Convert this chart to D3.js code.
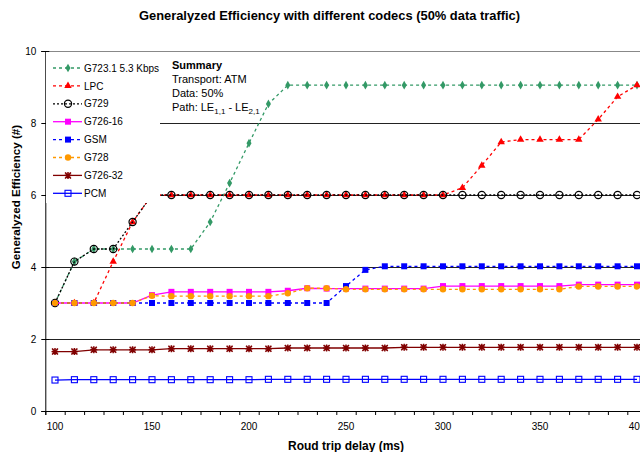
<!DOCTYPE html>
<html><head><meta charset="utf-8">
<script src="https://cdn.jsdelivr.net/npm/d3@7"></script>
<style>
body{margin:0;background:#fff;}
text{font-family:"Liberation Sans",Arial,sans-serif;}
</style></head>
<body>
<svg id="chart" width="640" height="452"></svg>
<script>
const categories = [100,110,120,130,140,150,160,170,180,190,200,210,220,230,240,250,260,270,280,290,300,310,320,330,340,350,360,370,380,390,400];
const xTickLabels = [100,150,200,250,300,350,400];
const yTicks = [0,2,4,6,8,10];
const seriesNames = ["G723.1 5.3 Kbps","LPC","G729","G726-16","GSM","G728","G726-32","PCM"];
const g7231 = [3.0,4.15,4.5,4.5,4.5,4.5,4.5,4.5,5.25,6.33,7.44,8.53,9.05,9.05,9.05,9.05,9.05,9.05,9.05,9.05,9.05,9.05,9.05,9.05,9.05,9.05,9.05,9.05,9.05,9.05,9.05];
const lpc   = [3.0,3.0,3.0,4.15,5.25,6.0,6.0,6.0,6.0,6.0,6.0,6.0,6.0,6.0,6.0,6.0,6.0,6.0,6.0,6.0,6.0,6.2,6.82,7.47,7.54,7.54,7.54,7.54,8.1,8.73,9.05];
const g729  = [3.0,4.15,4.5,4.5,5.25,6.0,6.0,6.0,6.0,6.0,6.0,6.0,6.0,6.0,6.0,6.0,6.0,6.0,6.0,6.0,6.0,6.0,6.0,6.0,6.0,6.0,6.0,6.0,6.0,6.0,6.0];
const g72616 = [3.0,3.0,3.0,3.0,3.0,3.22,3.31,3.31,3.31,3.31,3.31,3.31,3.34,3.41,3.40,3.40,3.40,3.40,3.40,3.40,3.47,3.47,3.47,3.47,3.47,3.47,3.47,3.51,3.51,3.51,3.51];
const gsm   = [3.0,3.0,3.0,3.0,3.0,3.0,3.0,3.0,3.0,3.0,3.0,3.0,3.0,3.0,3.0,3.47,3.92,4.02,4.02,4.02,4.02,4.02,4.02,4.02,4.02,4.02,4.02,4.02,4.02,4.02,4.02];
const g728  = [3.0,3.0,3.0,3.0,3.0,3.20,3.19,3.19,3.19,3.19,3.19,3.19,3.27,3.41,3.41,3.38,3.38,3.38,3.38,3.38,3.38,3.38,3.38,3.38,3.38,3.38,3.38,3.46,3.46,3.46,3.46];
const g72632 = [1.65,1.65,1.70,1.70,1.70,1.70,1.73,1.73,1.73,1.73,1.73,1.73,1.75,1.75,1.75,1.75,1.75,1.75,1.77,1.77,1.77,1.77,1.77,1.77,1.77,1.77,1.77,1.77,1.77,1.77,1.77];
const pcm   = [0.86,0.87,0.87,0.87,0.87,0.87,0.87,0.87,0.87,0.87,0.87,0.88,0.88,0.88,0.88,0.88,0.88,0.88,0.88,0.88,0.88,0.88,0.88,0.88,0.88,0.88,0.88,0.88,0.88,0.88,0.88];

const styles = [
  {color:"#339966", dash:"3,3", marker:"diamond"},
  {color:"#ff0000", dash:"3,3", marker:"triangle"},
  {color:"#000000", dash:"2,2", marker:"opencircle"},
  {color:"#ff00ff", dash:null, marker:"square"},
  {color:"#0000ff", dash:"3,3", marker:"square"},
  {color:"#ff9900", dash:"3,3", marker:"circle"},
  {color:"#800000", dash:null, marker:"star"},
  {color:"#0000ff", dash:null, marker:"opensquare"}
];
const allValues = [g7231,lpc,g729,g72616,gsm,g728,g72632,pcm];
const series = seriesNames.map((n,i)=>({name:n, values:allValues[i], ...styles[i]}));

const svg = d3.select("#chart");
const mLeft = 45.3, mRight = 646.7, mTop = 51, mBottom = 411;
const x = d3.scaleBand().domain(categories).range([mLeft,mRight]).padding(0);
const xc = v => x(v) + x.bandwidth()/2;
const y = d3.scaleLinear().domain([0,10]).range([mBottom,mTop]);

// gridlines
const grid = svg.append("g").attr("transform",`translate(${mLeft},0)`)
  .call(d3.axisRight(y).tickValues([2,4,6,8,10]).tickSize(mRight-mLeft).tickFormat(""));
grid.select(".domain").remove();
grid.selectAll(".tick line").attr("stroke",d=>d===10?"#888":"#222").attr("stroke-width",1);

// y axis
const ya = svg.append("g").attr("transform",`translate(${mLeft},0)`)
  .call(d3.axisLeft(y).tickValues(yTicks).tickSize(4).tickPadding(5).tickFormat(d3.format("d")));
ya.select(".domain").attr("stroke","#000");
ya.selectAll(".tick line").attr("x2",-4).attr("x1",4).attr("stroke","#000");
ya.selectAll("text").attr("font-size",10).attr("fill","#000").attr("font-family","Liberation Sans, Arial");

// x axis: ticks between categories
const xb = d3.scaleLinear().domain([0,categories.length]).range([mLeft,mRight]);
const xTicksG = svg.append("g").attr("transform",`translate(0,${mBottom})`)
  .call(d3.axisBottom(xb).tickValues(d3.range(0,categories.length+1)).tickSize(4).tickFormat(""));
xTicksG.select(".domain").attr("stroke","#000");
xTicksG.selectAll(".tick line").attr("stroke","#000");
const xl = svg.append("g").attr("transform",`translate(0,${mBottom})`)
  .call(d3.axisBottom(x).tickValues(xTickLabels).tickSize(0).tickPadding(12));
xl.select(".domain").remove();
xl.selectAll("text").attr("font-size",10).attr("fill","#000").attr("font-family","Liberation Sans, Arial");

// lines
const line = d3.line().x((d,i)=>xc(categories[i])).y(d=>y(d));
function marker(g, type, color, cx, cy){
  if(type==="diamond"){
    g.append("path").attr("d",d3.symbol(d3.symbolDiamond,22)()).attr("transform",`translate(${cx},${cy})`).attr("fill",color);
  } else if(type==="triangle"){
    g.append("path").attr("d",d3.symbol(d3.symbolTriangle,24)()).attr("transform",`translate(${cx},${cy})`).attr("fill",color);
  } else if(type==="opencircle"){
    g.append("circle").attr("cx",cx).attr("cy",cy).attr("r",3.6).attr("fill","none").attr("stroke",color).attr("stroke-width",1.2);
  } else if(type==="square"){
    g.append("rect").attr("x",cx-3).attr("y",cy-3).attr("width",6).attr("height",6).attr("fill",color);
  } else if(type==="circle"){
    g.append("circle").attr("cx",cx).attr("cy",cy).attr("r",3.2).attr("fill",color);
  } else if(type==="star"){
    g.append("rect").attr("x",cx-3).attr("y",cy-3).attr("width",6).attr("height",6).attr("fill","#c08080").attr("opacity",0.6);
    g.append("path").attr("d","M-3,-3L3,3M-3,3L3,-3M0,-3.5L0,3.5M-3.5,0L3.5,0").attr("transform",`translate(${cx},${cy})`).attr("stroke",color).attr("stroke-width",1.4).attr("fill","none");
  } else if(type==="opensquare"){
    g.append("rect").attr("x",cx-3).attr("y",cy-3).attr("width",6).attr("height",6).attr("fill","none").attr("stroke",color).attr("stroke-width",1.1);
  }
}
series.forEach(s=>{
  const g = svg.append("g");
  g.append("path").attr("d",line(s.values)).attr("fill","none").attr("stroke",s.color)
    .attr("stroke-width",1.3).attr("stroke-dasharray",s.dash);
  s.values.forEach((v,i)=>marker(g,s.marker,s.color,xc(categories[i]),y(v)));
});

// legend
svg.append("rect").attr("x",mLeft+0.7).attr("y",mTop+1).attr("width",160-mLeft-0.7).attr("height",203-mTop-1).attr("fill","#fff");
const lg = svg.append("g");
series.forEach((s,i)=>{
  const ly = 68 + i*17.9;
  lg.append("line").attr("x1",53).attr("x2",82).attr("y1",ly).attr("y2",ly).attr("stroke",s.color)
    .attr("stroke-width",1.3).attr("stroke-dasharray",s.dash);
  marker(lg,s.marker,s.color,68,ly);
  lg.append("text").attr("x",84).attr("y",ly+3.6).attr("font-size",10).attr("fill","#000").text(s.name);
});

// summary
const sm = svg.append("g").attr("font-size",11).attr("fill","#000");
sm.append("text").attr("x",172).attr("y",69).attr("font-weight","bold").text("Summary");
sm.append("text").attr("x",172).attr("y",83).text("Transport: ATM");
sm.append("text").attr("x",172).attr("y",97).text("Data: 50%");
const p = sm.append("text").attr("x",172).attr("y",111);
p.append("tspan").text("Path: LE");
p.append("tspan").attr("font-size",8).attr("dy",3).text("1,1");
p.append("tspan").attr("dy",-3).text(" - LE");
p.append("tspan").attr("font-size",8).attr("dy",3).text("2,1");

// titles
svg.append("text").attr("x",329.5).attr("y",20).attr("text-anchor","middle").attr("font-weight","bold")
  .attr("font-size",12.9).text("Generalyzed Efficiency with different codecs (50% data traffic)");
svg.append("text").attr("x",346).attr("y",449.5).attr("text-anchor","middle").attr("font-weight","bold")
  .attr("font-size",12).text("Roud trip delay (ms)");
svg.append("text").attr("transform","translate(19.5,197) rotate(-90)").attr("text-anchor","middle").attr("font-weight","bold")
  .attr("font-size",11.6).text("Generalyzed Efficiency (#)");
</script>
</body></html>
